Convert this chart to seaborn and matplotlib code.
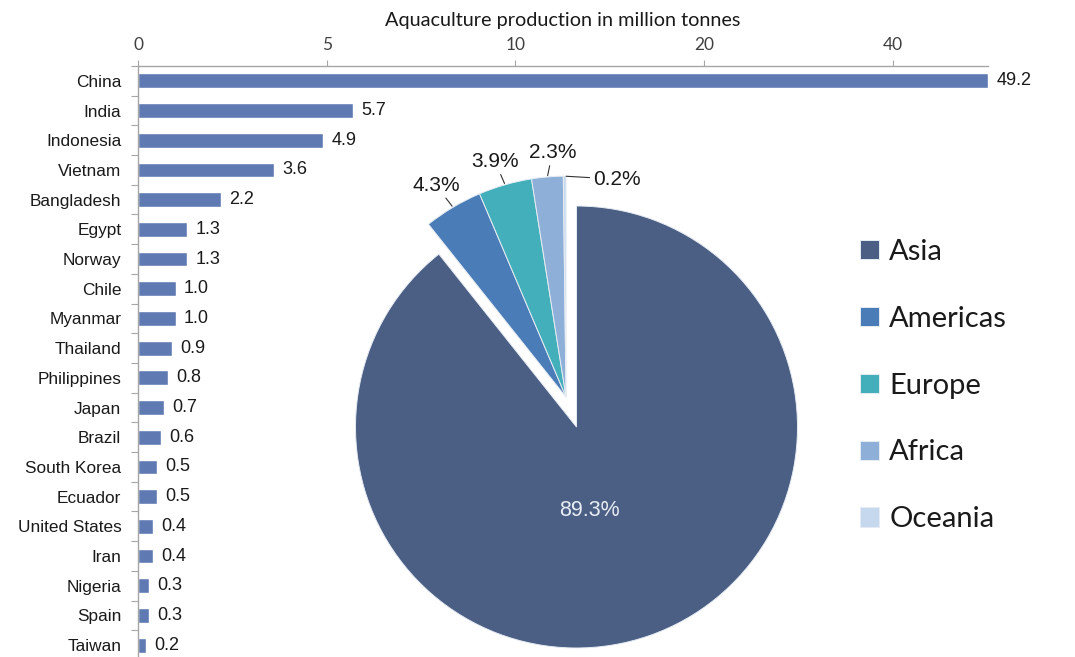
import numpy as np
import matplotlib
matplotlib.use("Agg")
import matplotlib.pyplot as plt
import seaborn as sns

# ---------------- data ----------------
countries = ["China", "India", "Indonesia", "Vietnam", "Bangladesh", "Egypt", "Norway",
             "Chile", "Myanmar", "Thailand", "Philippines", "Japan", "Brazil",
             "South Korea", "Ecuador", "United States", "Iran", "Nigeria", "Spain", "Taiwan"]
production = [49.2, 5.7, 4.9, 3.6, 2.2, 1.3, 1.3, 1.0, 1.0, 0.9, 0.8, 0.7, 0.6,
              0.5, 0.5, 0.4, 0.4, 0.3, 0.3, 0.2]
x_ticks = [0, 5, 10, 20, 40]

regions = ["Asia", "Americas", "Europe", "Africa", "Oceania"]
region_share = [89.3, 4.3, 3.9, 2.3, 0.2]
region_colors = ["#4b5e83", "#4a7db8", "#43afbb", "#8eafd8", "#c5d8ee"]

# ---------------- figure ----------------
sns.set_theme(style="white")
plt.rcParams["font.family"] = ["Liberation Sans", "DejaVu Sans"]

W, H = 1075, 657
fig = plt.figure(figsize=(W / 100, H / 100), dpi=100)
fig.patch.set_facecolor("white")

# bar axes (pixel geometry from reference)
left_px, right_px, top_px, bottom_px = 138, 988, 66, 660
ax = fig.add_axes([left_px / W, 1 - bottom_px / H, (right_px - left_px) / W, (bottom_px - top_px) / H])
ax.set_facecolor("none")

sns.barplot(x=production, y=countries, orient="h", color="#5f7ab3", width=0.5,
            saturation=1, ax=ax)

# broken-style axis: 0,5,10,20,40 evenly spaced
kv = [0, 5, 10, 20, 40, 50]
kp = [0, 1, 2, 3, 4, 4.55]
fwd = lambda v: np.interp(v, kv, kp)
inv = lambda p: np.interp(p, kp, kv)
ax.set_xscale("function", functions=(fwd, inv))
ax.set_xlim(0, max(production))
ax.set_ylim(len(countries) - 0.5, -0.5)

for c in ax.containers:
    ax.bar_label(c, fmt="%.1f", padding=6, fontsize=13, color="#1a1a1a")

ax.xaxis.tick_top()
ax.set_xticks(x_ticks)
ax.set_xticklabels([str(t) for t in x_ticks], fontfamily="Lato", fontsize=12.5, color="#404040")
ax.tick_params(axis="x", which="major", direction="out", length=4, width=0.8,
               color="#a6a6a6", pad=5, top=True, bottom=False)
ax.xaxis.set_label_position("top")
ax.set_xlabel("Aquaculture production in million tonnes", fontfamily="Lato",
              fontsize=14.3, color="#1a1a1a", labelpad=8)
ax.set_ylabel("")

ax.set_yticks(np.arange(-0.5, len(countries), 1), minor=True)
ax.tick_params(axis="y", which="major", length=0, pad=12, labelsize=12.4, labelcolor="#1a1a1a")
ax.tick_params(axis="y", which="minor", left=True, direction="out", length=5, width=0.8, color="#a6a6a6")
for s in ["right", "bottom"]:
    ax.spines[s].set_visible(False)
for s in ["top", "left"]:
    ax.spines[s].set_color("#a6a6a6")
    ax.spines[s].set_linewidth(1.0)
ax.grid(False)

# ---------------- pie ----------------
cx, cy, R = 576.5, 427, 221
pax = fig.add_axes([(cx - R) / W, 1 - (cy + R) / H, 2 * R / W, 2 * R / H])
wedges, _ = pax.pie(region_share, colors=region_colors, startangle=90, counterclock=False,
                    radius=1, wedgeprops=dict(edgecolor="#e6ecf3", linewidth=0.7))
pax.set_xlim(-1, 1)
pax.set_ylim(-1, 1)
pax.set_aspect("auto")
pax.axis("off")
for w in wedges:
    w.set_clip_on(False)

# pull the small regions out together
t1 = min(w.theta1 for w in wedges[1:])
t2 = max(w.theta2 for w in wedges[1:])
gmid = np.deg2rad((t1 + t2) / 2)
shift = 0.143
dx, dy = shift * np.cos(gmid), shift * np.sin(gmid)
for w in wedges[1:]:
    w.set_center((dx, dy))

# main label
pax.text(0.057, -0.38, f"{region_share[0]:.1f}%",
         ha="center", va="center", fontsize=15.5, color="#e8edf5")

# small labels with leader lines
offsets = [(-17, 22), (-10, 23), (5, 24), (52, -3)]
for w, val, (ox, oy) in zip(wedges[1:], region_share[1:], offsets):
    m = np.deg2rad((w.theta1 + w.theta2) / 2)
    px, py = dx + 1.0 * np.cos(m), dy + 1.0 * np.sin(m)
    pax.annotate(f"{val:.1f}%", xy=(px, py), xytext=(ox, oy), textcoords="offset pixels",
                 ha="center", va="center", fontsize=15, color="#1a1a1a",
                 arrowprops=dict(arrowstyle="-", color="#333333", lw=0.8,
                                 shrinkA=9 if ox < 40 else 22, shrinkB=1),
                 annotation_clip=False)

# legend
leg = fig.legend(wedges, regions, loc="upper left",
                 bbox_to_anchor=(860 / W, 1 - 239 / H), frameon=False,
                 prop=dict(family="Lato", size=21), handlelength=0.65, handleheight=0.65,
                 handletextpad=0.35, labelspacing=1.4, borderpad=0, borderaxespad=0)
for t in leg.get_texts():
    t.set_color("#1a1a1a")

fig.savefig("out.png", dpi=100, facecolor="white")
